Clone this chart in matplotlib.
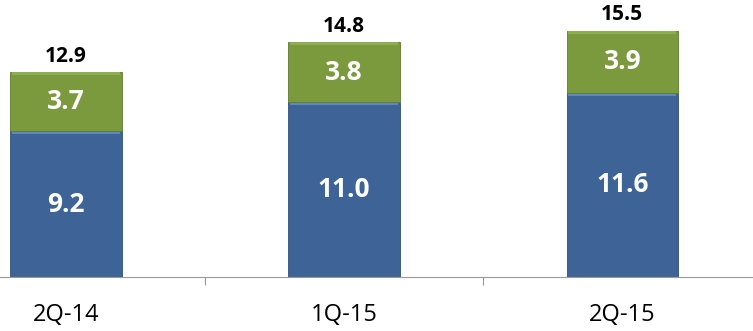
import matplotlib.pyplot as plt
import numpy as np

categories = ["2Q-14", "1Q-15", "2Q-15"]
bottom_vals = [9.2, 11.0, 11.6]
top_vals = [3.7, 3.8, 3.9]
totals = [12.9, 14.8, 15.5]

blue = "#3E6497"
blue_light = "#5C87C0"
green = "#7B9A3E"
green_light = "#8EAD4E"

plt.rcParams['font.family'] = ['Open Sans', 'DejaVu Sans']

fig = plt.figure(figsize=(7.53, 3.31), dpi=100)
ax = fig.add_axes([0, 0.163, 1, 0.837])

x = np.arange(len(categories))
w = 0.4
bev = 0.18

ax.bar(x, bottom_vals, w, color=blue, edgecolor="#2F4F7A", linewidth=0.6)
ax.bar(x, bev, w * 0.97, bottom=np.array(bottom_vals) - bev, color=blue_light, linewidth=0)
ax.bar(x, top_vals, w, bottom=bottom_vals, color=green, edgecolor="#5E7A2C", linewidth=0.6)
ax.bar(x, bev, w * 0.97, bottom=np.array(totals) - bev, color=green_light, linewidth=0)

for i in range(len(x)):
    ax.text(x[i], bottom_vals[i] / 2, f"{bottom_vals[i]:.1f}", ha="center", va="center",
            color="white", fontsize=19, fontweight="bold")
    ax.text(x[i], bottom_vals[i] + top_vals[i] / 2, f"{top_vals[i]:.1f}", ha="center", va="center",
            color="white", fontsize=19, fontweight="bold")
    ax.text(x[i], totals[i] + 0.35, f"{totals[i]:.1f}", ha="center", va="bottom",
            color="black", fontsize=15, fontweight="bold")

ax.set_xlim(-0.237, 2.47)
ax.set_ylim(0, 17.45)
for s in ["top", "right", "left"]:
    ax.spines[s].set_visible(False)
ax.spines["bottom"].set_color("#999999")
ax.set_yticks([])
ax.set_xticks([0.5, 1.5])
ax.set_xticklabels([])
ax.tick_params(axis="x", length=6, color="#999999")
for i, c in enumerate(categories):
    ax.text(x[i], -2.4, c, ha="center", va="center", fontsize=17, color="black")

fig.savefig("out.png", dpi=100)
